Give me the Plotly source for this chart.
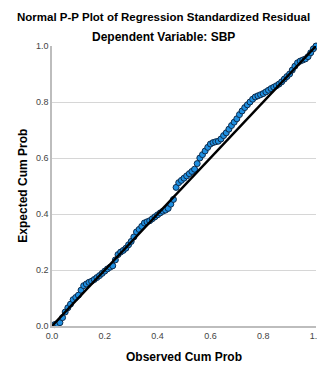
import plotly.graph_objects as go

observed = [0.01,0.02,0.03,0.04,0.05,0.06,0.07,0.08,0.09,0.10,
            0.11,0.12,0.13,0.14,0.15,0.16,0.17,0.18,0.19,0.20,
            0.21,0.22,0.23,0.24,0.25,0.26,0.27,0.28,0.29,0.30,
            0.31,0.32,0.33,0.34,0.35,0.36,0.37,0.38,0.39,0.40,
            0.41,0.42,0.43,0.44,0.45,0.46,0.47,0.48,0.49,0.50,
            0.51,0.52,0.53,0.54,0.55,0.56,0.57,0.58,0.59,0.60,
            0.61,0.62,0.63,0.64,0.65,0.66,0.67,0.68,0.69,0.70,
            0.71,0.72,0.73,0.74,0.75,0.76,0.77,0.78,0.79,0.80,
            0.81,0.82,0.83,0.84,0.85,0.86,0.87,0.88,0.89,0.90,
            0.91,0.92,0.93,0.94,0.95,0.96,0.97,0.98,0.99,1.00]

expected = [0.005,0.008,0.012,0.030,0.050,0.065,0.078,0.094,0.102,0.110,
            0.128,0.144,0.150,0.156,0.160,0.166,0.173,0.180,0.188,0.196,
            0.204,0.210,0.215,0.236,0.255,0.264,0.270,0.278,0.290,0.302,
            0.318,0.336,0.345,0.356,0.368,0.372,0.376,0.383,0.390,0.397,
            0.404,0.410,0.414,0.420,0.435,0.452,0.495,0.512,0.520,0.528,
            0.536,0.544,0.552,0.560,0.580,0.600,0.612,0.625,0.638,0.650,
            0.655,0.658,0.660,0.668,0.680,0.690,0.703,0.716,0.728,0.740,
            0.755,0.768,0.780,0.790,0.800,0.810,0.818,0.822,0.826,0.830,
            0.836,0.842,0.848,0.853,0.858,0.864,0.872,0.882,0.891,0.900,
            0.914,0.928,0.940,0.946,0.950,0.954,0.962,0.976,0.990,1.000]

ref_line = [0.0, 1.0]
ticks = [0.0, 0.2, 0.4, 0.6, 0.8, 1.0]
tick_labels = ["0.0", "0.2", "0.4", "0.6", "0.8", "1.0"]

FONT = "Liberation Sans, Arial, sans-serif"

fig = go.Figure()
fig.add_trace(go.Scatter(
    x=observed, y=expected, mode="markers",
    marker=dict(size=6, color="#1f8fe0", line=dict(color="#0d2a4a", width=1)),
    cliponaxis=False, showlegend=False))
fig.add_trace(go.Scatter(
    x=ref_line, y=ref_line, mode="lines",
    line=dict(color="black", width=2.5),
    cliponaxis=False, showlegend=False))

# page body has an 8px margin, so the figure is sized/offset to compensate
fig.update_layout(
    width=317, height=361,
    margin=dict(l=44, r=3, t=38, b=43),
    paper_bgcolor="white", plot_bgcolor="white",
    font=dict(family=FONT, color="#000"),
    xaxis=dict(range=[0, 1], tickvals=ticks, ticktext=tick_labels,
               showgrid=False, zeroline=False, showline=True,
               linecolor="#bdbdbd", linewidth=1.5, ticks="",
               ticklabeloverflow="allow",
               tickfont=dict(size=9, color="#444")),
    yaxis=dict(range=[0, 1], tickvals=ticks, ticktext=tick_labels,
               showgrid=True, gridcolor="#d6d6d6", gridwidth=1,
               zeroline=False, showline=True,
               linecolor="#bdbdbd", linewidth=1.5, ticks="",
               tickfont=dict(size=9, color="#444")),
    annotations=[
        dict(text="<b>Normal P-P Plot of Regression Standardized Residual</b>",
             x=0.422, y=1.1036, xref="paper", yref="paper",
             xanchor="center", yanchor="middle", showarrow=False,
             font=dict(size=11.5, family=FONT, color="#000")),
        dict(text="<b>Dependent Variable: SBP</b>",
             x=0.422, y=1.032, xref="paper", yref="paper",
             xanchor="center", yanchor="middle", showarrow=False,
             font=dict(size=12, family=FONT, color="#000")),
        dict(text="<b>Expected Cum Prob</b>",
             x=-0.111, y=0.5, xref="paper", yref="paper", textangle=-90,
             xanchor="center", yanchor="middle", showarrow=False,
             font=dict(size=12, family=FONT, color="#000")),
        dict(text="<b>Observed Cum Prob</b>",
             x=0.5, y=-0.111, xref="paper", yref="paper",
             xanchor="center", yanchor="middle", showarrow=False,
             font=dict(size=12, family=FONT, color="#000")),
    ],
)

fig.write_html("out.html")
